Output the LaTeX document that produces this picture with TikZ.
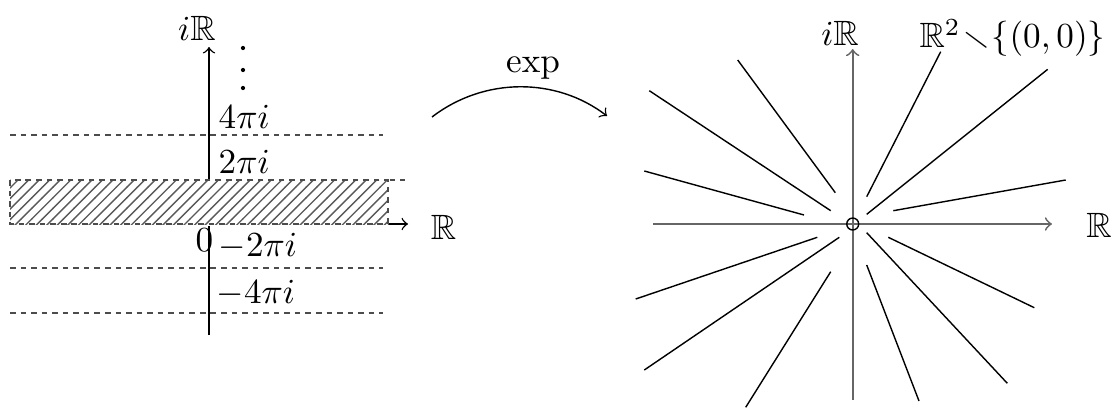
\documentclass[tikz,border=0pt]{standalone}
\usepackage{amsmath}
\usepackage{amssymb}
\usetikzlibrary{patterns}
\begin{document}
\begin{tikzpicture}[x=0.01cm, y=-0.01cm,
	guide/.style={black!70, dash pattern=on 1.6pt off 1.4pt},
	lbl/.style={inner sep=0pt},
	dotmark/.style={circle, fill, inner sep=0pt, minimum size=1.2pt},
	plane/.style={black!60, line width=0.5pt}]
	\useasboundingbox (0,0) rectangle (1112,409);

	% the strip in the plane
	\draw[->] (209,335) -- (209,47);
	\draw[->] (10,224) -- (408,224);
	\draw[guide] (10,135) -- (383,135);
	\draw[guide] (10,180) -- (405,180);
	\draw[guide] (10,268) -- (383,268);
	\draw[guide] (10,313) -- (383,313);
	\fill[white] (10,179) rectangle (388,225.5);
	\fill[pattern=north east lines, pattern color=black!65] (10,180) rectangle (388,224);
	\draw[guide] (10,180) rectangle (388,224);

	\node[dotmark] (dota) at (243,48) {};
	\node[dotmark] (dotb) at (243,70) {};
	\node[dotmark] (dotc) at (243,88) {};

	\node[lbl] (imL) at (197,28) {$i\mathbb{R}$};
	\node[lbl] (reL) at (443.5,227) {$\mathbb{R}$};
	\node[lbl, anchor=west] (fourpi) at (218,117) {$4\pi i$};
	\node[lbl, anchor=west] (twopi) at (218,162) {$2\pi i$};
	\node[lbl] (zero) at (204.5,240) {$0$};
	\node[lbl, anchor=west] (mtwopi) at (218,246) {$-2\pi i$};
	\node[lbl, anchor=west] (mfourpi) at (216,293) {$-4\pi i$};

	% the map
	\node[lbl] (explbl) at (533,68) {$\exp$};
	\coordinate (expfrom) at (432,117);
	\coordinate (expto) at (607,116);
	\draw[->] (expfrom) .. controls (484,77) and (556,77) .. (expto);

	% the punctured plane
	\draw[->, plane] (653,224) -- (1052,224);
	\draw[->, plane] (852.7,400) -- (852.7,49);
	\draw (852.7,224) circle[radius=1.7pt];
	\node[lbl] (imR) at (840,33) {$i\mathbb{R}$};
	\node[lbl, anchor=east] (punct) at (1106,38) {$\mathbb{R}^2\mkern1mu{\smallsetminus}\mkern1mu\{(0,0)\}$};
	\node[lbl] (reR) at (1099,225) {$\mathbb{R}$};

	\draw (737.7,60) -- (835.3,192.7);
	\draw (649.3,90.7) -- (830.7,210.7);
	\draw (644.3,171) -- (804,215);
	\draw (940.7,51.7) -- (866.7,196.7);
	\draw (1047.7,69.3) -- (866.7,214.3);
	\draw (1065.7,180) -- (893.3,210.7);
	\draw (817.3,237.3) -- (635.7,299);
	\draw (839.3,237.3) -- (644.3,370);
	\draw (830.7,271.7) -- (745.7,407.3);
	\draw (866.7,265) -- (919,401);
	\draw (866.7,232.7) -- (1007.3,383.3);
	\draw (888.3,237.3) -- (1034.3,307.7);
\end{tikzpicture}
\end{document}
